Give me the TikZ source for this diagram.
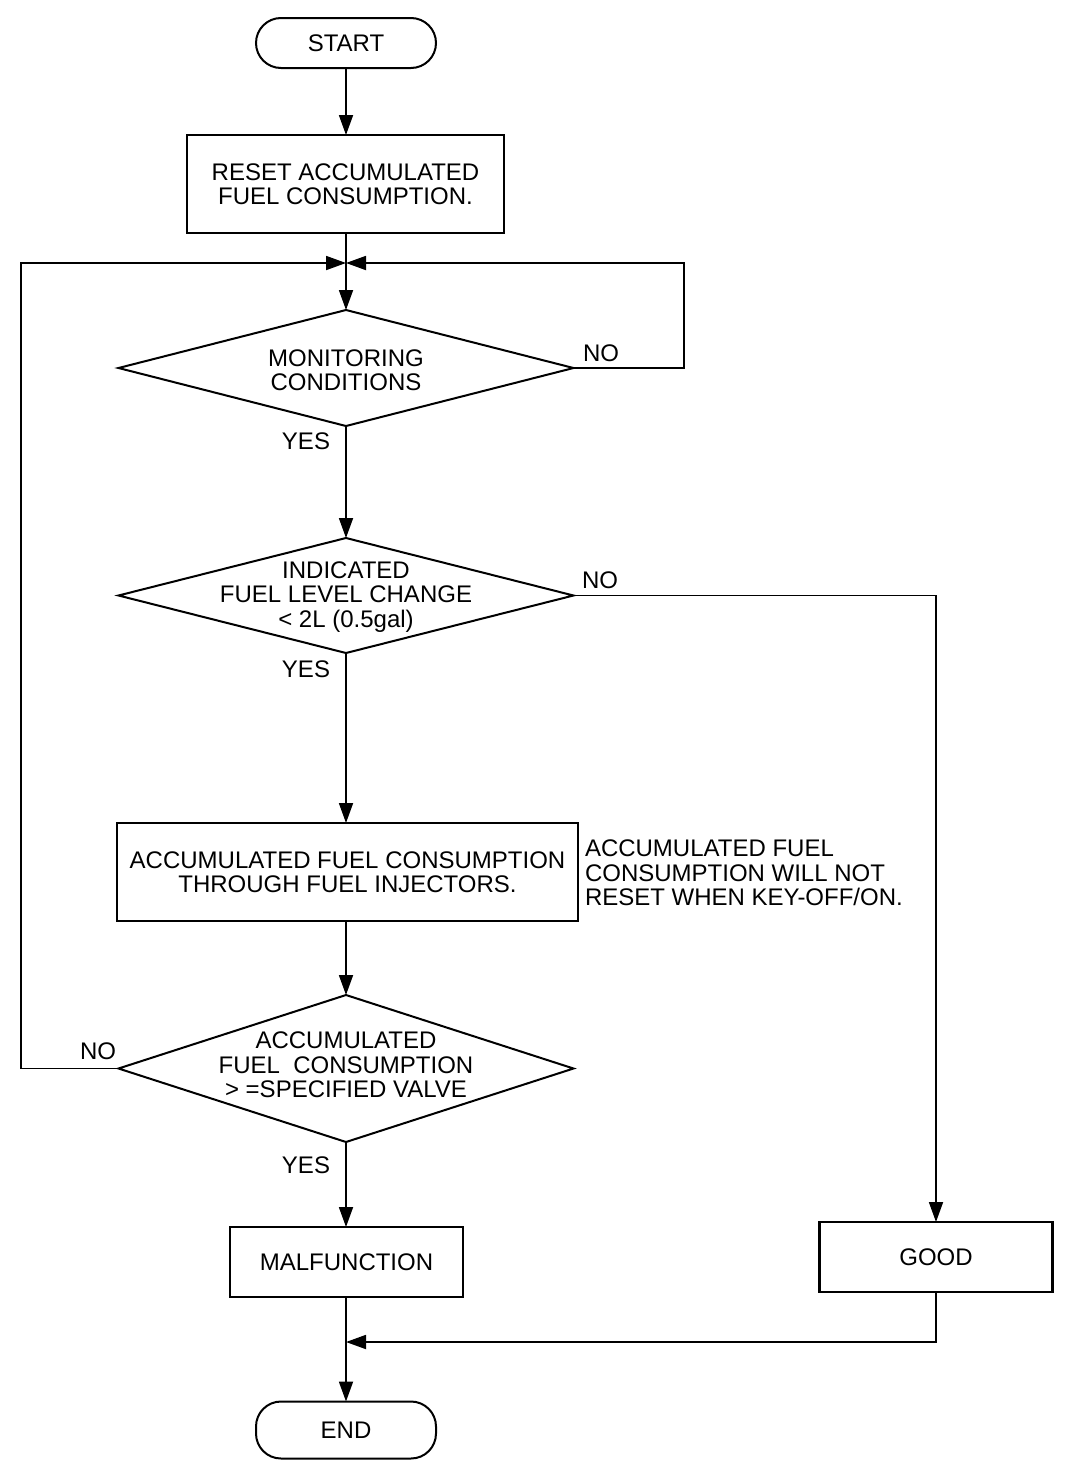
\documentclass[tikz,border=0pt]{standalone}
\usepackage{fontspec}
\setmainfont{Liberation Sans}
\usetikzlibrary{shapes.geometric,arrows.meta}
\begin{document}
\begin{tikzpicture}[x=1pt,y=-1pt,
  every node/.style={font=\fontsize{24}{24.5}\selectfont, align=center, inner sep=0pt, outer sep=0pt},
  term/.style={draw, line width=2pt, rounded corners=25pt},
  proc/.style={draw, line width=2.6pt},
  dia/.style={draw, diamond, line width=2pt},
  lbl/.style={},
  conn/.style={line width=1.8pt},
  arr/.style={line width=1.8pt, -{Triangle[length=20pt,width=14pt]}}]
\useasboundingbox (0,0) rectangle (1072,1470);
\node[term, minimum width=180pt, minimum height=50pt] (start) at (346,43) {START};
\node[proc, minimum width=317pt, minimum height=98pt] (reset) at (345.5,184) {RESET ACCUMULATED\\FUEL CONSUMPTION.};
\node[dia, minimum width=455pt, minimum height=116pt] (d1) at (346,368) {};
\node (d1t) at (346,370) {MONITORING\\CONDITIONS};
\node[dia, minimum width=455pt, minimum height=115pt] (d2) at (346,595.5) {};
\node (d2t) at (346,597) {INDICATED\\FUEL LEVEL CHANGE\\\textless{} 2L (0.5gal)};
\node[proc, minimum width=461pt, minimum height=98pt] (acc) at (347.5,872) {ACCUMULATED FUEL CONSUMPTION\\THROUGH FUEL INJECTORS.};
\node[anchor=west, align=left] (note) at (585,873) {ACCUMULATED FUEL\\CONSUMPTION WILL NOT\\RESET WHEN KEY-OFF/ON.};
\node[dia, minimum width=455pt, minimum height=147pt] (d3) at (346,1068.5) {};
\node (d3t) at (346,1065) {ACCUMULATED\\FUEL\ \ CONSUMPTION\\\textgreater{} =SPECIFIED VALVE};
\node[proc, minimum width=233pt, minimum height=70pt] (mal) at (346.5,1262) {MALFUNCTION};
\node[proc, minimum width=233pt, minimum height=70pt] (good) at (936,1257) {GOOD};
\node[term, minimum width=180pt, minimum height=57pt] (end) at (346,1430) {END};
% labels
\node[lbl] (no1) at (601,353) {NO};
\node[lbl] (yes1) at (306,441) {YES};
\node[lbl] (no2) at (600,580) {NO};
\node[lbl] (yes2) at (306,669) {YES};
\node[lbl] (no3) at (98,1051) {NO};
\node[lbl] (yes3) at (306,1165) {YES};
% coordinates
\coordinate (j) at (346,263);
\coordinate (r1) at (684,368);
\coordinate (r2) at (684,263);
\coordinate (l1) at (21,1068.5);
\coordinate (l2) at (21,263);
\coordinate (g1) at (936,595.5);
\coordinate (g2) at (936,1342);
\coordinate (j2) at (346,1342);
% connectors
\draw[arr] (start) -- (start |- reset.north);
\draw[arr] (start |- reset.south) -- (d1.north);
\draw[arr] (d1.east) -- (r1) -- (r2) -- (j);
\draw[arr] (d3.west) -- (l1) -- (l2) -- (j);
\draw[arr] (d1.south) -- (d2.north);
\draw[arr] (d2.south) -- (d2.south |- acc.north);
\draw[arr] (d2.south |- acc.south) -- (d3.north);
\draw[arr] (d3.south) -- (d3.south |- mal.north);
\draw[arr] (d2.east) -- (g1) -- (good);
\draw[arr] (good.south) -- (g2) -- (j2);
\draw[arr] (d3.south |- mal.south) -- (end.north);
\end{tikzpicture}
\end{document}
